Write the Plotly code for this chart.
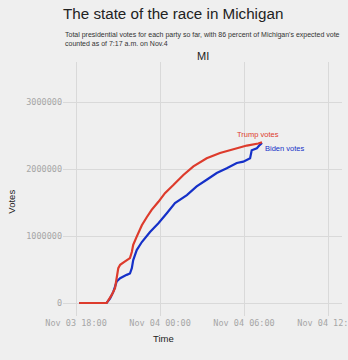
import plotly.graph_objects as go

# Cumulative vote counts (Michigan, Nov 3-4 2020)
trump_time = [
    "2020-11-03 18:13", "2020-11-03 20:11", "2020-11-03 20:33", "2020-11-03 20:47",
    "2020-11-03 21:01", "2020-11-03 21:09", "2020-11-03 21:30", "2020-11-03 21:51",
    "2020-11-03 21:59", "2020-11-03 22:05", "2020-11-03 22:20", "2020-11-03 22:42",
    "2020-11-03 23:03", "2020-11-03 23:24", "2020-11-03 23:53", "2020-11-04 00:21",
    "2020-11-04 00:57", "2020-11-04 01:40", "2020-11-04 02:23", "2020-11-04 03:20",
    "2020-11-04 04:17", "2020-11-04 05:14", "2020-11-04 06:12", "2020-11-04 07:01",
    "2020-11-04 07:17",
]
trump_votes = [
    0, 0, 120000, 220000, 520000, 570000, 620000, 670000, 760000, 870000,
    990000, 1160000, 1280000, 1390000, 1510000, 1640000, 1760000, 1910000,
    2040000, 2160000, 2240000, 2300000, 2350000, 2380000, 2400000,
]

biden_time = [
    "2020-11-03 18:13", "2020-11-03 20:11", "2020-11-03 20:26", "2020-11-03 20:40",
    "2020-11-03 20:54", "2020-11-03 21:09", "2020-11-03 21:37", "2020-11-03 21:51",
    "2020-11-03 21:59", "2020-11-03 22:05", "2020-11-03 22:20", "2020-11-03 22:42",
    "2020-11-03 23:17", "2020-11-03 23:53", "2020-11-04 00:29", "2020-11-04 01:04",
    "2020-11-04 01:55", "2020-11-04 02:37", "2020-11-04 03:20", "2020-11-04 04:03",
    "2020-11-04 04:46", "2020-11-04 05:29", "2020-11-04 05:57", "2020-11-04 06:26",
    "2020-11-04 06:33", "2020-11-04 06:55", "2020-11-04 07:08", "2020-11-04 07:17",
]
biden_votes = [
    0, 0, 70000, 170000, 320000, 370000, 420000, 440000, 520000, 640000,
    790000, 910000, 1060000, 1190000, 1340000, 1490000, 1610000, 1740000,
    1840000, 1940000, 2010000, 2090000, 2110000, 2160000, 2280000, 2310000,
    2360000, 2390000,
]

y_ticks = [0, 1000000, 2000000, 3000000]
y_tick_labels = ["0", "1000000", "2000000", "3000000"]

RED = "#dd3b2c"
BLUE = "#1530c8"
BG = "#efefef"
GRID = "#d9d9d9"
TICK_FONT = dict(family="DejaVu Sans Mono", size=8.5, color="#a6a6a6")

fig = go.Figure()
fig.add_trace(go.Scatter(x=biden_time, y=biden_votes, mode="lines",
                         line=dict(color=BLUE, width=2.2), name="Biden votes"))
fig.add_trace(go.Scatter(x=trump_time, y=trump_votes, mode="lines",
                         line=dict(color=RED, width=2.2), name="Trump votes"))

fig.add_annotation(x="2020-11-04 07:00", y=2510000, text="Trump votes",
                   showarrow=False, font=dict(family="Liberation Sans", size=7.5, color=RED),
                   xanchor="center", yanchor="middle")
fig.add_annotation(x="2020-11-04 07:23", y=2300000, text="Biden votes",
                   showarrow=False, font=dict(family="Liberation Sans", size=7.5, color=BLUE),
                   xanchor="left", yanchor="middle")

# Headings and axis titles
fig.add_annotation(xref="paper", yref="paper", x=0, y=1.13, xanchor="left", yanchor="top",
                   align="left", showarrow=False,
                   text="Total presidential votes for each party so far, with 86 percent of Michigan's expected vote<br>counted as of 7:17 a.m. on Nov.4",
                   font=dict(family="Liberation Sans", size=7, color="#333333"))
fig.add_annotation(xref="paper", yref="paper", x=0.5, y=1.0236, xanchor="center", yanchor="middle",
                   showarrow=False, text="MI",
                   font=dict(family="Liberation Sans", size=11, color="#222222"))
fig.add_annotation(xref="paper", yref="paper", x=-0.183, y=0.45, xanchor="center", yanchor="middle",
                   showarrow=False, text="Votes", textangle=-90,
                   font=dict(family="Liberation Sans", size=9.5, color="#222222"))
fig.add_annotation(xref="paper", yref="paper", x=0.36, y=-0.09, xanchor="center", yanchor="middle",
                   showarrow=False, text="Time",
                   font=dict(family="Liberation Sans", size=9.5, color="#222222"))

fig.update_layout(
    width=348, height=360,
    margin=dict(l=63, r=6, t=62, b=44),
    paper_bgcolor=BG, plot_bgcolor=BG,
    showlegend=False,
    title=dict(text="The state of the race in Michigan", x=63 / 348, xanchor="left",
               y=1 - 14 / 360, yanchor="middle",
               font=dict(family="Liberation Sans", size=15.2, color="#222222")),
    xaxis=dict(range=["2020-11-03 17:04", "2020-11-04 13:00"], type="date",
               tick0="2020-11-03 18:00", dtick=6 * 3600 * 1000, tickformat="%b %d %H:%M",
               showgrid=True, gridcolor=GRID, gridwidth=1, zeroline=False,
               showline=False, ticks="", tickfont=TICK_FONT,
               ticklabeloverflow="allow", automargin=False),
    yaxis=dict(range=[-194000, 3597000], tickvals=y_ticks, ticktext=y_tick_labels,
               showgrid=True, gridcolor=GRID, gridwidth=1, zeroline=False,
               showline=False, ticks="", tickfont=TICK_FONT, automargin=False),
)

fig.write_html("out.html")
